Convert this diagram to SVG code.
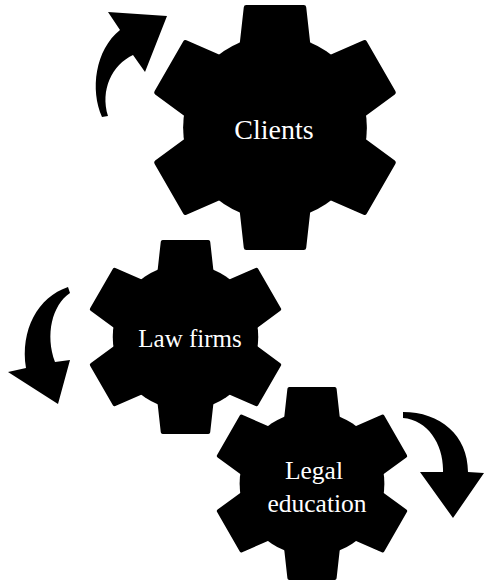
<svg xmlns="http://www.w3.org/2000/svg" xmlns:xlink="http://www.w3.org/1999/xlink" width="485" height="583" viewBox="0 0 485 583">
<style>
.lbl{font-family:"Liberation Serif","Times New Roman",serif;fill:#fff;text-anchor:middle}
.arrow{fill:#000}
</style>
<defs>
<polygon id="tooth" points="-23.5,-98 23.5,-98 27.5,-62 -27.5,-62" fill="#000" stroke="#000" stroke-width="4" stroke-linejoin="round"/>
<g id="gear">
<circle r="75" fill="#000"/>
<use xlink:href="#tooth" href="#tooth"/>
<use xlink:href="#tooth" href="#tooth" transform="rotate(60)"/>
<use xlink:href="#tooth" href="#tooth" transform="rotate(120)"/>
<use xlink:href="#tooth" href="#tooth" transform="rotate(180)"/>
<use xlink:href="#tooth" href="#tooth" transform="rotate(240)"/>
<use xlink:href="#tooth" href="#tooth" transform="rotate(300)"/>
</g>
</defs>
<rect width="485" height="583" fill="#fff"/>
<g id="connectors">
<path class="arrow" d="M102,117 C90,90 95,50 120,30 L108,12 L167,16 L145,72 L133,55 C112,65 100,90 108,116 Z"/>
<path class="arrow" d="M68,287 C38,297 20,330 26,368 L8,372 L58,404 L70,360 L55,362 C45,335 52,305 70,293 Z"/>
<path class="arrow" d="M403,412 C440,412 468,435 468,472 L484,473 L453,518 L420,472 L443,472 C444,445 428,420 403,418 Z"/>
</g>
<g id="clients">
<use xlink:href="#gear" href="#gear" transform="translate(275,127.5) scale(1.225)"/>
<text class="lbl" x="274" y="139" font-size="28">Clients</text>
</g>
<g id="law-firms">
<use xlink:href="#gear" href="#gear" transform="translate(185.5,337) scale(0.97)"/>
<text class="lbl" x="190" y="347" font-size="25">Law firms</text>
</g>
<g id="legal-education">
<use xlink:href="#gear" href="#gear" transform="translate(312,483.5) scale(0.965)"/>
<text class="lbl" x="314" y="479" font-size="25.5">Legal</text>
<text class="lbl" x="317" y="512" font-size="25.5">education</text>
</g>
</svg>
